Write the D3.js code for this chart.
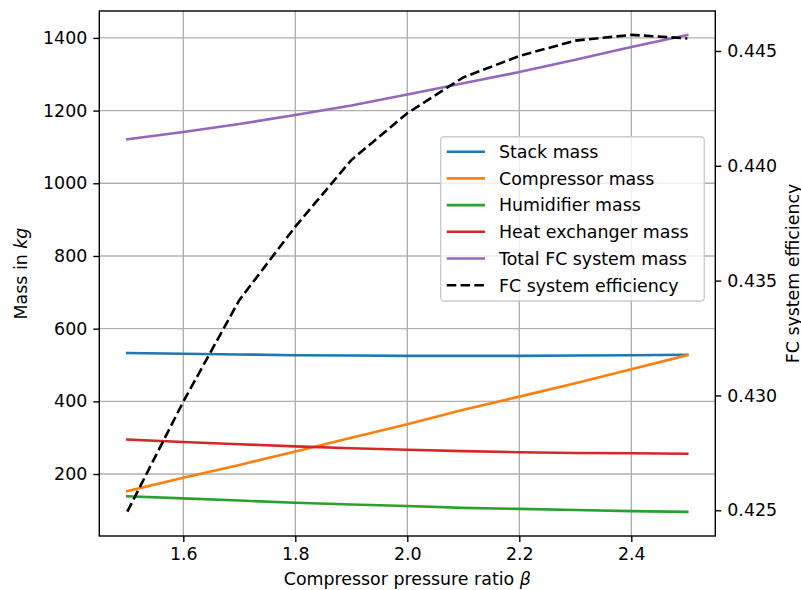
<!DOCTYPE html>
<html>
<head>
<meta charset="utf-8">
<script src="https://cdn.jsdelivr.net/npm/d3@7"></script>
<style>
  body { margin: 0; background: #fff; }
  svg { display: block; font-family: "DejaVu Sans", sans-serif; }
</style>
</head>
<body>
<div class="canvas"></div>
<script>
// pressure ratio values
const beta = [1.5, 1.6, 1.7, 1.8, 1.9, 2.0, 2.1, 2.2, 2.3, 2.4, 2.5];

// masses in kg
const stackMass = [533, 531, 529, 527, 526, 525, 525, 525, 526, 527, 528];
const compressorMass = [153, 190, 225, 262, 300, 337, 377, 413, 450, 488, 527];
const humidifierMass = [139, 133, 127, 121, 116, 112, 107, 104, 101, 98, 96];
const heatExMass = [295, 288, 282, 276, 271, 267, 263, 260, 258, 257, 256];
const totalMass = [1121, 1141, 1163, 1188, 1214, 1244, 1275, 1306, 1340, 1375, 1408];

// efficiency
const efficiency = [0.42494, 0.42973, 0.43415, 0.43735, 0.44025, 0.44229, 0.44385, 0.44478, 0.44545, 0.44570, 0.44555];

const xTicks = [1.6, 1.8, 2.0, 2.2, 2.4];
const massTicks = [200, 400, 600, 800, 1000, 1200, 1400];
const effTicks = [0.425, 0.430, 0.435, 0.440, 0.445];

const seriesNames = ['Stack mass', 'Compressor mass', 'Humidifier mass', 'Heat exchanger mass', 'Total FC system mass'];
const seriesData = [stackMass, compressorMass, humidifierMass, heatExMass, totalMass];
const colours = ['#1f77b4', '#ff7f0e', '#2ca02c', '#d62728', '#9467bd'];

const W = 801, H = 590;
const pLeft = 99.3, pRight = 715.3, pTop = 11, pBottom = 536;
const fs = 17.4;

const svg = d3.select('.canvas')
    .append('svg')
    .attr('width', W)
    .attr('height', H);

const x = d3.scaleLinear().domain([1.45, 2.55]).range([pLeft, pRight]);
const yMass = d3.scaleLinear().domain([29.5, 1474]).range([pBottom, pTop]);
const yEff = d3.scaleLinear().domain([0.42388, 0.44674]).range([pBottom, pTop]);

// grid
const grid = svg.append('g');
grid.selectAll('.gx')
    .data(xTicks)
    .enter().append('line')
    .attr('x1', d => x(d)).attr('x2', d => x(d))
    .attr('y1', pTop).attr('y2', pBottom)
    .attr('stroke', '#b0b0b0').attr('stroke-width', 1.4);
grid.selectAll('.gy')
    .data(massTicks)
    .enter().append('line')
    .attr('x1', pLeft).attr('x2', pRight)
    .attr('y1', d => yMass(d)).attr('y2', d => yMass(d))
    .attr('stroke', '#b0b0b0').attr('stroke-width', 1.4);

// mass lines
const massLine = (arr) => d3.line()
    .x((d, i) => x(beta[i]))
    .y(d => yMass(d))(arr);

svg.append('g').selectAll('path')
    .data(seriesData)
    .enter().append('path')
    .attr('fill', 'none')
    .attr('stroke', (d, i) => colours[i])
    .attr('stroke-width', 2.6)
    .attr('stroke-linecap', 'square')
    .attr('d', d => massLine(d));

// legend
const lg = svg.append('g').attr('transform', 'translate(440.7,136.7)');
lg.append('rect')
    .attr('width', 263.6).attr('height', 164.3)
    .attr('rx', 3.5)
    .attr('fill', 'white').attr('fill-opacity', 0.8)
    .attr('stroke', '#cccccc').attr('stroke-width', 1.4);

const legendItems = seriesNames.map((n, i) => ({ name: n, colour: colours[i], dash: null }));
legendItems.push({ name: 'FC system efficiency', colour: '#000', dash: '9.6,4.2' });

const rows = lg.selectAll('.row')
    .data(legendItems)
    .enter().append('g')
    .attr('transform', (d, i) => `translate(0, ${15 + i * 26.7})`);
rows.append('line')
    .attr('x1', 6).attr('x2', 44.3)
    .attr('stroke', d => d.colour)
    .attr('stroke-width', 2.6)
    .attr('stroke-dasharray', d => d.dash);
rows.append('text')
    .attr('x', 58.3)
    .attr('dy', 6.3)
    .attr('font-size', fs)
    .attr('fill', '#000')
    .text(d => d.name);

// efficiency (dashed, twin axis)
svg.append('path')
    .attr('fill', 'none')
    .attr('stroke', '#000')
    .attr('stroke-width', 2.6)
    .attr('stroke-dasharray', '9.6,4.2')
    .attr('d', d3.line().x((d, i) => x(beta[i])).y(d => yEff(d))(efficiency));

// axes
function styleAxis(g) {
    g.selectAll('text').attr('font-size', fs).attr('fill', '#000').attr('font-family', '"DejaVu Sans", sans-serif');
    g.selectAll('.tick line').attr('stroke', '#000').attr('stroke-width', 1.4);
    g.select('.domain').remove();
}

svg.append('g')
    .attr('transform', `translate(0,${pBottom})`)
    .call(d3.axisBottom(x).tickValues(xTicks).tickFormat(d3.format('.1f')).tickSize(6).tickPadding(6))
    .call(styleAxis);

svg.append('g')
    .attr('transform', `translate(${pLeft},0)`)
    .call(d3.axisLeft(yMass).tickValues(massTicks).tickFormat(d3.format('d')).tickSize(6).tickPadding(6))
    .call(styleAxis);

svg.append('g')
    .attr('transform', `translate(${pRight},0)`)
    .call(d3.axisRight(yEff).tickValues(effTicks).tickFormat(d3.format('.3f')).tickSize(6).tickPadding(6))
    .call(styleAxis);

// spines
svg.append('rect')
    .attr('x', pLeft).attr('y', pTop)
    .attr('width', pRight - pLeft).attr('height', pBottom - pTop)
    .attr('fill', 'none').attr('stroke', '#000').attr('stroke-width', 1.4);

// axis labels
const xl = svg.append('text')
    .attr('x', (pLeft + pRight) / 2).attr('y', 585)
    .attr('text-anchor', 'middle')
    .attr('font-size', fs);
xl.append('tspan').text('Compressor pressure ratio ');
xl.append('tspan').attr('font-style', 'italic').text('β');

const yl = svg.append('text')
    .attr('transform', `translate(27,${(pTop + pBottom) / 2}) rotate(-90)`)
    .attr('text-anchor', 'middle')
    .attr('font-size', fs);
yl.append('tspan').text('Mass in ');
yl.append('tspan').attr('font-style', 'italic').text('kg');

svg.append('text')
    .attr('transform', `translate(799,${(pTop + pBottom) / 2}) rotate(-90)`)
    .attr('text-anchor', 'middle')
    .attr('font-size', fs)
    .text('FC system efficiency');
</script>
</body>
</html>
